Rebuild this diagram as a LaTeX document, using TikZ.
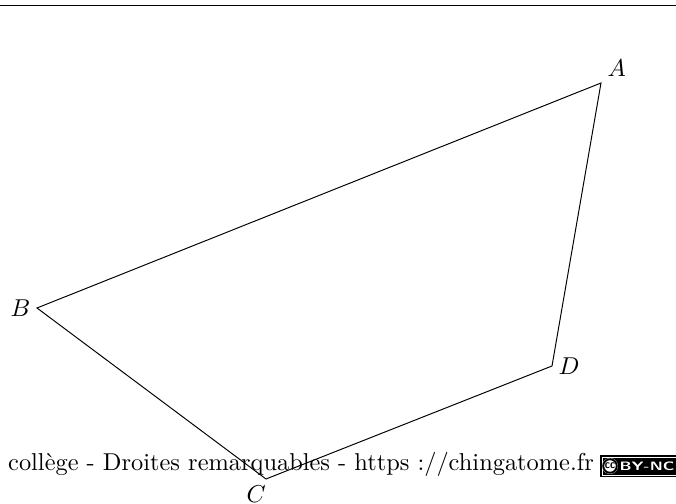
\documentclass[tikz,border=0pt]{standalone}
\usepackage{fontspec}
\begin{document}
\begin{tikzpicture}[x=0.41pt,y=0.41pt,line width=0.4pt,
    font=\normalsize,
    vertexlabel/.style={inner sep=2.5pt}]
    \path[use as bounding box] (0,0) rectangle (676,504);
    \draw[line width=0.8pt] (0,498.5) -- (676,498.5);
    % quadrilateral
    \coordinate (A) at (601,421);
    \coordinate (B) at (37,196);
    \coordinate (C) at (266,25);
    \coordinate (D) at (552,138);
    \draw (A) -- (B) -- (C) -- (D) -- cycle;
    \node[vertexlabel,above right] at (A) {\(A\)};
    \node[vertexlabel,left] at (B) {\(B\)};
    \node[vertexlabel,anchor=north,xshift=-4pt] at (C) {\(C\)};
    \node[vertexlabel,right] at (D) {\(D\)};
    % footer
    \node (footer) at (301,40) {collège - Droites remarquables - https ://chingatome.fr};
    \fill[black] (600,27) rectangle (678,49);
    \draw[white,line width=0.3pt] (602,29) rectangle (678,47);
    \fill[white] (610,38) circle (8);
    \draw[black,line width=0.8pt] (610,38) circle (6.8);
    \node[font=\sffamily\bfseries\tiny,inner sep=0pt,
      xscale=0.85,transform shape] at (610,38) {cc};
    \node[font=\sffamily\bfseries\tiny,text=white,inner sep=0pt,
      xscale=1.35,transform shape] at (647,38) {BY-NC};
\end{tikzpicture}
\end{document}
